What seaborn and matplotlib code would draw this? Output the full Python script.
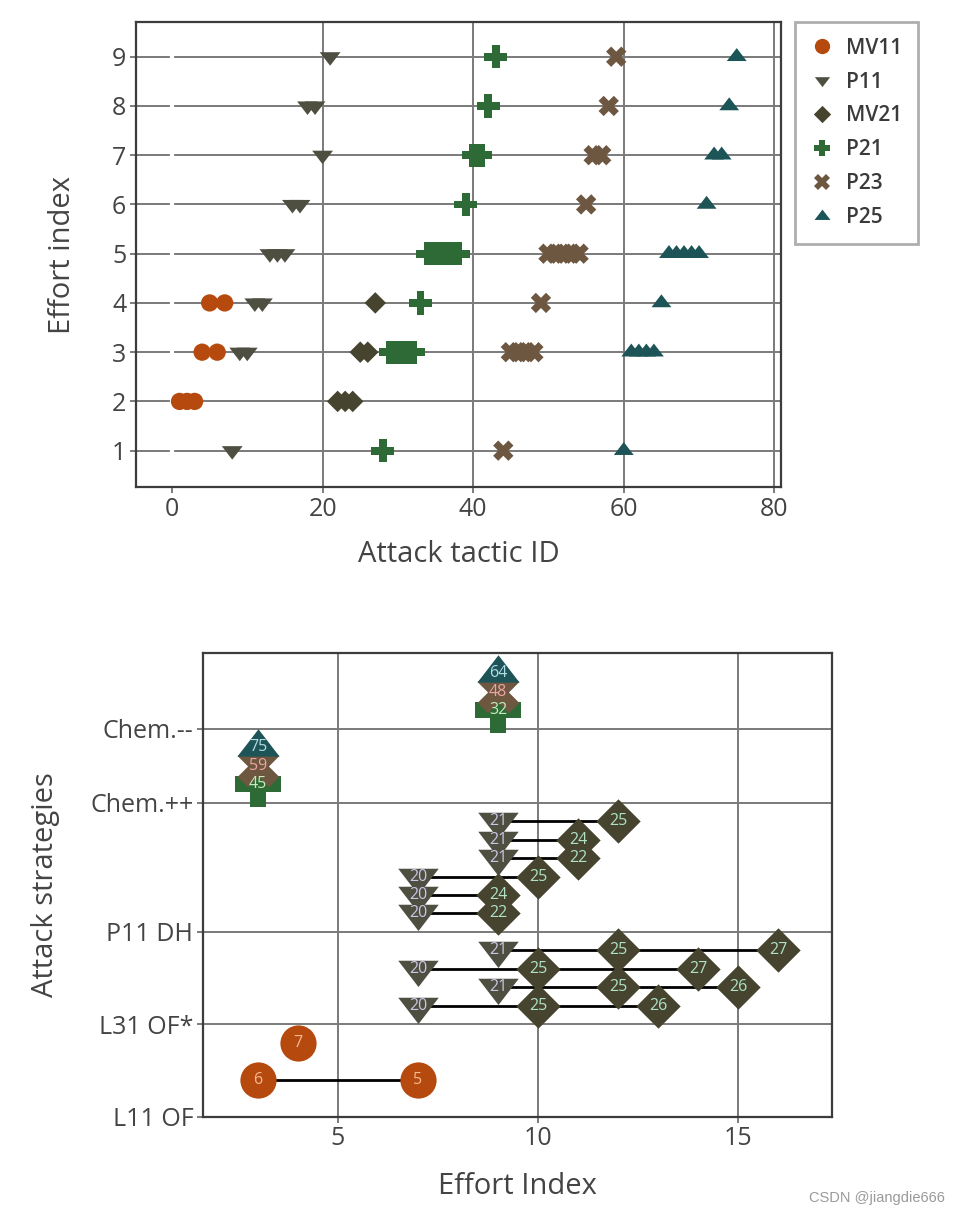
import numpy as np
import pandas as pd
import matplotlib
matplotlib.use('Agg')
import matplotlib.pyplot as plt
from matplotlib.path import Path
from matplotlib.lines import Line2D
import seaborn as sns

# ---------------- top chart data (attack tactic ID vs effort index) ----------------
series = ['MV11', 'P11', 'MV21', 'P21', 'P23', 'P25']
mv11_id = [1, 2, 3, 4, 6, 5, 7]
mv11_eff = [2, 2, 2, 3, 3, 4, 4]
p11_id = [8, 9, 10, 11, 12, 13, 14, 15, 16, 17, 20, 18, 19, 21]
p11_eff = [1, 3, 3, 4, 4, 5, 5, 5, 6, 6, 7, 8, 8, 9]
mv21_id = [22, 23, 24, 25, 26, 27]
mv21_eff = [2, 2, 2, 3, 3, 4]
p21_id = [28, 29, 30, 31, 32, 33, 34, 35, 36, 37, 38, 39, 40, 41, 42, 43]
p21_eff = [1, 3, 3, 3, 3, 4, 5, 5, 5, 5, 5, 6, 7, 7, 8, 9]
p23_id = [44, 45, 46, 47, 48, 49, 50, 51, 52, 53, 54, 55, 56, 57, 58, 59]
p23_eff = [1, 3, 3, 3, 3, 4, 5, 5, 5, 5, 5, 6, 7, 7, 8, 9]
p25_id = [60, 61, 62, 63, 64, 65, 66, 67, 68, 69, 70, 71, 72, 73, 74, 75]
p25_eff = [1, 3, 3, 3, 3, 4, 5, 5, 5, 5, 5, 6, 7, 7, 8, 9]
top_xticks = [0, 20, 40, 60, 80]
top_yticks = [1, 2, 3, 4, 5, 6, 7, 8, 9]

# ---------------- bottom chart data (effort index vs attack strategy) ----------------
strategy_pos = [0, 1, 2, 3.4, 4.2]
strategy_labels = ['L11 OF', 'L31 OF*', 'P11 DH', 'Chem.++', 'Chem.--']
bottom_xticks = [5, 10, 15]

b_mv11_x = [3, 7, 4]
b_mv11_y = [0.4, 0.4, 0.8]
b_mv11_lbl = [6, 5, 7]

b_p11_x = [9, 9, 9, 7, 7, 7, 9, 7, 9, 7]
b_p11_y = [3.2, 3.0, 2.8, 2.6, 2.4, 2.2, 1.8, 1.6, 1.4, 1.2]
b_p11_lbl = [21, 21, 21, 20, 20, 20, 21, 20, 21, 20]

b_mv21_x = [12, 11, 11, 10, 9, 9, 12, 16, 10, 14, 12, 15, 10, 13]
b_mv21_y = [3.2, 3.0, 2.8, 2.6, 2.4, 2.2, 1.8, 1.8, 1.6, 1.6, 1.4, 1.4, 1.2, 1.2]
b_mv21_lbl = [25, 24, 22, 25, 24, 22, 25, 27, 25, 27, 25, 26, 25, 26]

b_p21_x = [3, 9]
b_p21_y = [3.6, 4.4]
b_p21_lbl = [45, 32]

b_p23_x = [3, 9]
b_p23_y = [3.8, 4.6]
b_p23_lbl = [59, 48]

b_p25_x = [3, 9]
b_p25_y = [4.0, 4.8]
b_p25_lbl = [75, 64]

# ---------------- styles ----------------
colors = {'MV11': '#b5490e', 'P11': '#4f4f41', 'MV21': '#46432f',
          'P21': '#2e6a36', 'P23': '#6d5741', 'P25': '#1d5457'}
text_colors = {'MV11': '#f7b993', 'P11': '#c9c7e6', 'MV21': '#aee3c6',
               'P21': '#c6eab8', 'P23': '#eea3a3', 'P25': '#b2dbe8'}


def mkpath(verts):
    codes = [Path.MOVETO] + [Path.LINETO] * (len(verts) - 1) + [Path.CLOSEPOLY]
    return Path(verts + [verts[0]], codes)


TRI_DOWN = mkpath([(-1.1547, 0.5), (1.1547, 0.5), (0.0, -1.0)])
TRI_UP = mkpath([(-1.1547, -0.5), (1.1547, -0.5), (0.0, 1.0)])
DIAMOND = mkpath([(1.0, 0.0), (0.0, 1.0), (-1.0, 0.0), (0.0, -1.0)])

markers = {'MV11': 'o', 'P11': TRI_DOWN, 'MV21': DIAMOND,
           'P21': 'P', 'P23': 'X', 'P25': TRI_UP}
top_sizes = {'MV11': 155, 'P11': 225, 'MV21': 240, 'P21': 280, 'P23': 215, 'P25': 205}
leg_ms = {'MV11': 11, 'P11': 11, 'MV21': 12.5, 'P21': 12, 'P23': 11, 'P25': 11.5}
bot_sizes = {'MV11': 680, 'P11': 850, 'MV21': 1020, 'P21': 1050, 'P23': 900, 'P25': 920}

sns.set_theme(style='white')
plt.rcParams['font.family'] = ['Open Sans', 'DejaVu Sans']

GRID_C = '#7a7a7a'
SPINE_C = '#3c3c3c'
LABEL_C = '#444444'

fig = plt.figure(figsize=(9.59, 12.17), dpi=100)
ax1 = fig.add_axes([136 / 959, 1 - 487 / 1217, 645 / 959, 465 / 1217])
ax2 = fig.add_axes([203 / 959, 1 - 1116.7 / 1217, 629 / 959, 463.7 / 1217])

# ---------------- top chart ----------------
top_ids = [mv11_id, p11_id, mv21_id, p21_id, p23_id, p25_id]
top_effs = [mv11_eff, p11_eff, mv21_eff, p21_eff, p23_eff, p25_eff]
df_top = pd.concat([pd.DataFrame({'id': i, 'effort': e, 'series': s})
                    for s, i, e in zip(series, top_ids, top_effs)], ignore_index=True)

sns.scatterplot(data=df_top, x='id', y='effort', hue='series', style='series',
                size='series', palette=colors, markers=markers, sizes=top_sizes,
                hue_order=series, style_order=series, size_order=series,
                linewidth=0, legend=False, ax=ax1, zorder=3)

ax1.set_xlim(-4.78, 80.88)
ax1.set_ylim(0.262, 9.705)
ax1.set_xticks(top_xticks)
ax1.set_yticks(top_yticks)
ax1.set_axisbelow(True)
ax1.grid(True, color=GRID_C, lw=1.4)
ax1.axvline(0, color='white', lw=3, zorder=1.5)

# ---------------- bottom chart ----------------
groups = [
    ('MV11', b_mv11_x, b_mv11_y, b_mv11_lbl),
    ('P11', b_p11_x, b_p11_y, b_p11_lbl),
    ('MV21', b_mv21_x, b_mv21_y, b_mv21_lbl),
    ('P21', b_p21_x, b_p21_y, b_p21_lbl),
    ('P23', b_p23_x, b_p23_y, b_p23_lbl),
    ('P25', b_p25_x, b_p25_y, b_p25_lbl),
]
df_b = pd.concat([pd.DataFrame({'x': gx, 'y': gy, 'series': s})
                  for s, gx, gy, _ in groups], ignore_index=True)
df_b['row'] = df_b['y'].round(2).astype(str)

sns.lineplot(data=df_b, x='x', y='y', units='row', estimator=None, color='black',
             lw=2, ax=ax2, legend=False, zorder=2, sort=True)

for s, gx, gy, gl in groups:
    sns.scatterplot(x=gx, y=gy, marker=markers[s], s=bot_sizes[s], color=colors[s],
                    linewidth=0, ax=ax2, zorder=3, legend=False)
for s, gx, gy, gl in groups:
    for xv, yv, lv in zip(gx, gy, gl):
        ax2.text(xv, yv, str(lv), ha='center', va='center', fontsize=11.5,
                 color=text_colors[s], zorder=5)

ax2.set_xlim(1.625, 17.35)
ax2.set_ylim(0, 5.02)
ax2.set_xticks(bottom_xticks)
ax2.set_yticks(strategy_pos)
ax2.set_yticklabels(strategy_labels)
ax2.set_axisbelow(True)
ax2.grid(True, color=GRID_C, lw=1.4)

# ---------------- common axis styling ----------------
for ax in (ax1, ax2):
    for sp in ax.spines.values():
        sp.set_visible(True)
        sp.set_color(SPINE_C)
        sp.set_linewidth(1.6)
    ax.tick_params(axis='both', which='major', direction='out', length=4, width=1.2,
                   color='#666666', labelsize=18, labelcolor=LABEL_C, pad=3,
                   left=True, bottom=True, top=False, right=False)

ax1.set_xlabel('Attack tactic ID', fontsize=21, color=LABEL_C)
ax1.set_ylabel('Effort index', fontsize=21, color=LABEL_C)
ax1.xaxis.set_label_coords(0.5, -0.146)
ax1.xaxis.label.set_va('center')
ax1.yaxis.set_label_coords(-0.114, 0.5)
ax1.yaxis.label.set_va('center')

ax2.set_xlabel('Effort Index', fontsize=21, color=LABEL_C)
ax2.set_ylabel('Attack strategies', fontsize=21, color=LABEL_C)
ax2.xaxis.set_label_coords(0.5, -0.1495)
ax2.xaxis.label.set_va('center')
ax2.yaxis.set_label_coords(-0.251, 0.5)
ax2.yaxis.label.set_va('center')

# ---------------- legend ----------------
handles = [Line2D([], [], ls='none', marker=markers[s], color=colors[s],
                  markersize=leg_ms[s], markeredgewidth=0) for s in series]
leg = fig.legend(handles, series, loc='upper left',
                 bbox_to_anchor=(795 / 959, 1 - 22 / 1217), frameon=True,
                 fancybox=False, edgecolor='#9a9a9a',
                 prop={'size': 15, 'weight': 'semibold'}, labelcolor='#3a3a3a',
                 labelspacing=0.62, handlelength=1.1, handletextpad=0.6,
                 borderpad=0.75, borderaxespad=0)
leg.get_frame().set_linewidth(2)

fig.text(945 / 959, 1 - 1198 / 1217, 'CSDN @jiangdie666', ha='right', va='center',
         fontsize=10.5, color='#9a9a9a', family='Liberation Sans')

fig.savefig('out.png', dpi=100)
